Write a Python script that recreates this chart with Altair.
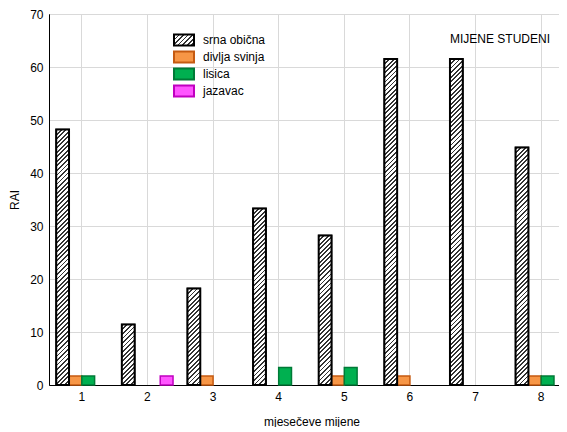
import json
import math
import altair as alt

# ---- data ----
months = ["1", "2", "3", "4", "5", "6", "7", "8"]
series = ["srna obična", "divlja svinja", "lisica", "jazavac"]
srna = [48.2, 11.4, 18.2, 33.3, 28.2, 61.5, 61.5, 44.8]
divlja = [1.7, None, 1.7, None, 1.7, 1.7, None, 1.7]
lisica = [1.7, None, None, 3.3, 3.3, None, None, 1.7]
jazavac = [None, 1.7, None, None, None, None, None, None]
y_ticks = [0, 10, 20, 30, 40, 50, 60, 70]

# ---- style ----
W, H = 525, 371
Y_MAX = 70
FONT = "Liberation Sans"
fill_colors = ["#e8e8e8", "#f79646", "#00b050", "#ff55ff"]
stroke_colors = ["#000000", "#c55a11", "#007a37", "#c000c0"]
PAD_INNER, PAD_OUTER = 0.22, 0.11


def hatch(w, h, period=3.2, frac=0.42, dark="#333333", light="#ffffff"):
    """Diagonal '/' hatch as a linear gradient in bounding-box units."""
    c = (w + h) / (w * w + h * h)
    dt = period * math.sqrt(2) / (w + h)
    stops = []
    t = 0.0
    while t < 1.0:
        a = min(t + frac * dt, 1.0)
        b = min(t + dt, 1.0)
        stops += [
            {"offset": round(t, 5), "color": dark},
            {"offset": round(a, 5), "color": dark},
            {"offset": round(a, 5), "color": light},
            {"offset": round(b, 5), "color": light},
        ]
        t += dt
    return {"gradient": "linear", "x1": 0, "y1": 0,
            "x2": round(w * c, 5), "y2": round(h * c, 5), "stops": stops}


step = W / (len(months) - PAD_INNER + 2 * PAD_OUTER)
bar_w = step * (1 - PAD_INNER) / len(series)
px_per_unit = H / Y_MAX

rows = []
for name, vals in zip(series, [srna, divlja, lisica, jazavac]):
    for m, v in zip(months, vals):
        if v is None:
            continue
        r = {"month": m, "series": name, "value": v}
        if name == series[0]:
            r["fillg"] = hatch(bar_w, v * px_per_unit)
        rows.append(r)

srna_rows = [r for r in rows if r["series"] == series[0]]

legend_grad = hatch(20, 11, period=3.2)
legend_expr = json.dumps(legend_grad)

x_enc = alt.X("month:N", sort=months,
              scale=alt.Scale(paddingInner=PAD_INNER, paddingOuter=PAD_OUTER),
              axis=alt.Axis(title="mjesečeve mijene", labelAngle=0, grid=True,
                            ticks=False, labelPadding=6, titlePadding=14))
y_enc = alt.Y("value:Q", scale=alt.Scale(domain=[0, Y_MAX], nice=False),
              axis=alt.Axis(title="RAI", values=y_ticks, ticks=False,
                            labelPadding=6, titlePadding=8))
xo = alt.XOffset("series:N", sort=series, scale=alt.Scale(domain=series))

legend = alt.Legend(
    title=None, orient="none", legendX=128, legendY=19,
    symbolType="M-1.667,-0.917L1.667,-0.917L1.667,0.917L-1.667,0.917Z", symbolSize=144,
    symbolStrokeWidth=2, labelFontSize=12, labelFont=FONT, labelOffset=12,
    rowPadding=-3.4, padding=0, labelColor="#000000",
)

base_bars = alt.Chart(alt.Data(values=rows)).mark_bar(strokeWidth=1.5).encode(
    x=x_enc, y=y_enc, xOffset=xo,
    fill=alt.Fill("series:N", sort=series,
                  scale=alt.Scale(domain=series,
                                  range=[alt.ExprRef(expr=legend_expr)] + fill_colors[1:]),
                  legend=legend),
    stroke=alt.Stroke("series:N", sort=series,
                      scale=alt.Scale(domain=series, range=stroke_colors),
                      legend=legend),
)

hatch_bars = alt.Chart(alt.Data(values=srna_rows)).mark_bar(
    stroke="#000000", strokeWidth=2
).encode(
    x=x_enc, y=y_enc, xOffset=xo,
    color=alt.Color("fillg:N", scale=None),
)

chart = alt.layer(base_bars, hatch_bars).properties(
    width=W, height=H,
    title=alt.TitleParams("MIJENE STUDENI", anchor="end", font=FONT, fontSize=12,
                          fontWeight="normal", color="#000000", dx=-24, dy=42),
    autosize=alt.AutoSizeParams(type="none"),
    padding={"left": 41, "top": 6, "right": -15, "bottom": 42},
).configure_view(
    stroke="#000000", strokeWidth=1
).configure_axis(
    labelFont=FONT, titleFont=FONT, labelFontSize=12, titleFontSize=12,
    titleFontWeight="normal", labelColor="#000000", titleColor="#000000",
    domainColor="#000000", domainWidth=1, gridColor="#d9d9d9", gridWidth=1,
)

chart.save("out.html", embed_options={"renderer": "svg", "actions": False})
